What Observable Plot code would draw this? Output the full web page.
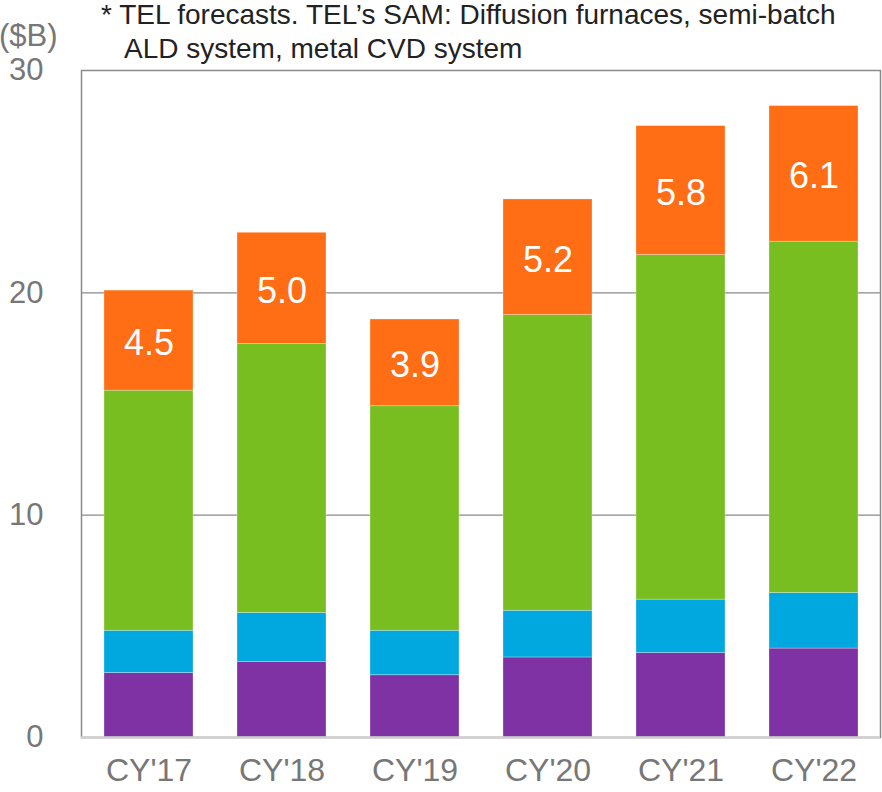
<!DOCTYPE html>
<html>
<head>
<meta charset="utf-8">
<script src="https://cdn.jsdelivr.net/npm/d3@7"></script>
<script src="https://cdn.jsdelivr.net/npm/@observablehq/plot@0.6"></script>
<style>
  html, body { margin: 0; padding: 0; background: #fff; }
  #wrap { position: relative; width: 882px; height: 792px; font-family: "Liberation Sans", Arial, sans-serif; }
  .note { position: absolute; color: #222; font-size: 28px; white-space: nowrap; line-height: 1; }
  .unit { position: absolute; color: #777; font-size: 31px; white-space: nowrap; line-height: 1; }
  svg { position: absolute; left: 0; top: 0; }
</style>
</head>
<body>
<div id="wrap">
  <div class="note" style="left:101px; top:1px;">* TEL forecasts. TEL’s SAM: Diffusion furnaces, semi-batch</div>
  <div class="note" style="left:124px; top:35px;">ALD system, metal CVD system</div>
  <div class="unit" style="left:-1px; top:20px;">($B)</div>
</div>
<script>
const years = ["CY'17", "CY'18", "CY'19", "CY'20", "CY'21", "CY'22"];
const seg1 = [2.9, 3.4, 2.8, 3.6, 3.8, 4.0];      // purple
const seg2 = [1.9, 2.2, 2.0, 2.1, 2.4, 2.5];      // blue
const seg3 = [10.8, 12.1, 10.1, 13.3, 15.5, 15.8]; // green
const seg4 = [4.5, 5.0, 3.9, 5.2, 5.8, 6.1];      // orange (labelled)
const seriesNames = ["Segment 1", "Segment 2", "Segment 3", "Segment 4"];
const seriesColors = ["#7e32a3", "#00a8df", "#79be21", "#ff6d15"];
const yTicks = [0, 10, 20, 30];
const gridValues = [10, 20];

const seriesValues = [seg1, seg2, seg3, seg4];
const data = [];
years.forEach((yr, i) => {
  seriesNames.forEach((s, k) => data.push({year: yr, series: s, value: seriesValues[k][i]}));
});

const chart = Plot.plot({
  width: 882,
  height: 792,
  marginLeft: 81,
  marginRight: 2,
  marginTop: 70,
  marginBottom: 55,
  style: {fontFamily: "'Liberation Sans', Arial, sans-serif", fontSize: "30px", background: "transparent"},
  x: {domain: years, paddingInner: 0.33, paddingOuter: 0.165, align: 0.52, label: null},
  y: {domain: [0, 30], label: null},
  color: {type: "ordinal", domain: seriesNames, range: seriesColors},
  marks: [
    Plot.ruleY(gridValues, {stroke: "#8a8a8a", strokeWidth: 1.2}),
    Plot.barY(data, {x: "year", y: "value", fill: "series", order: seriesNames, stroke: "#fff", strokeOpacity: 0.35, strokeWidth: 0.8}),
    Plot.text(data, Plot.stackY({x: "year", y: "value", z: "series", order: seriesNames,
      text: d => d.series === "Segment 4" ? d.value.toFixed(1) : null,
      fill: "white", fontSize: 36, dy: 3})),
    Plot.frame({stroke: "#8a8a8a", strokeWidth: 1.5}),
    Plot.ruleY([0], {stroke: "#cfcfcf", strokeWidth: 2.5}),
    Plot.axisY({ticks: yTicks, tickSize: 0, tickPadding: 38, color: "#777", fontSize: 31, label: null}),
    Plot.axisX({tickSize: 0, tickPadding: 21, color: "#777", fontSize: 32, label: null})
  ]
});
document.getElementById("wrap").appendChild(chart);
</script>
</body>
</html>
